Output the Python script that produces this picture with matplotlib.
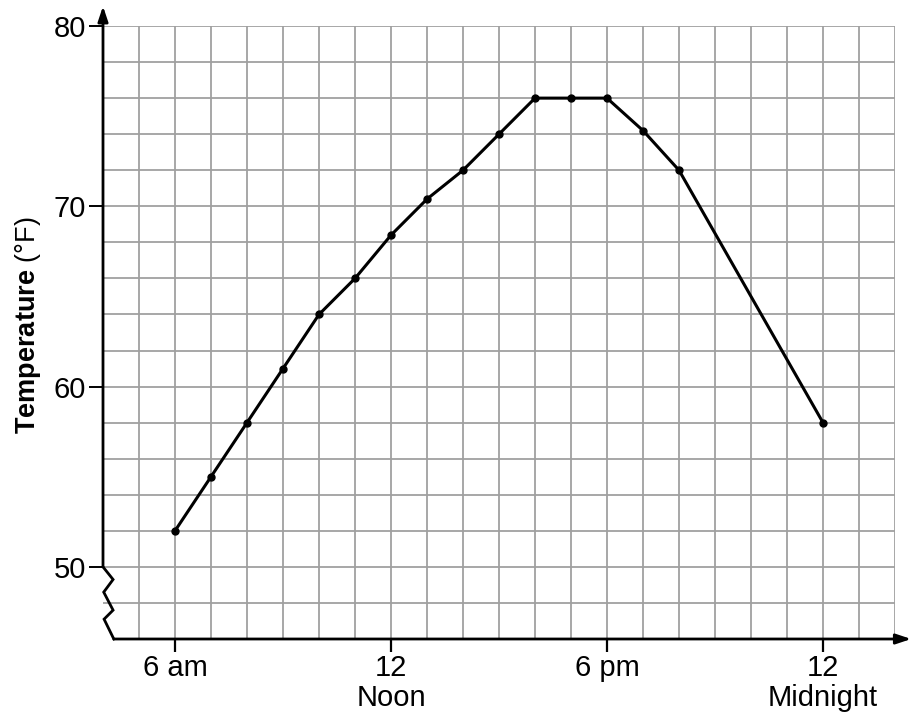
import matplotlib
matplotlib.use("Agg")
import matplotlib.pyplot as plt

plt.rcParams['font.family'] = ['Liberation Sans', 'DejaVu Sans']
plt.rcParams['mathtext.fontset'] = 'custom'
plt.rcParams['mathtext.rm'] = 'Liberation Sans'
plt.rcParams['mathtext.bf'] = 'Liberation Sans:bold'

# Data (hour of day, temperature in °F)
hours = [6, 7, 8, 9, 10, 11, 12, 13, 14, 15, 16, 17, 18, 19, 20, 24]
temps = [52, 55, 58, 61, 64, 66, 68.4, 70.4, 72, 74, 76, 76, 76, 74.2, 72, 58]

xtick_pos = [6, 12, 18, 24]
xtick_labels = ["6 am", "12\nNoon", "6 pm", "12\nMidnight"]
ytick_pos = [50, 60, 70, 80]
ytick_labels = ["50", "60", "70", "80"]
ylabel = r"$\mathbf{Temperature}$ (°F)"

x_min, x_max = 4.0, 26.0
y_min, y_max = 46, 80

fig = plt.figure(figsize=(9.11, 7.16), dpi=100)
ax = fig.add_axes([103/911, 77/716, (895-103)/911, (639-26)/716])
ax.set_xlim(x_min, x_max)
ax.set_ylim(y_min, y_max)

for s in ax.spines.values():
    s.set_visible(False)

# grid: every hour and every 2 degrees
ax.set_xticks(list(range(5, 27)), minor=True)
ax.set_yticks(list(range(48, 81, 2)), minor=True)
ax.set_xticks(xtick_pos)
ax.set_xticklabels(xtick_labels, fontsize=21, linespacing=1.1)
ax.set_yticks(ytick_pos)
ax.set_yticklabels(ytick_labels, fontsize=21)
ax.tick_params(which='minor', length=0)
ax.tick_params(axis='x', which='major', length=9, width=1.6, pad=2, direction='out')
ax.tick_params(axis='y', which='major', length=10, width=1.4, pad=2, direction='out')
ax.grid(which='both', color='#a0a0a0', linewidth=1.3)
ax.set_axisbelow(True)

# axes lines with arrows
ax.annotate('', xy=(x_min, 81.1), xytext=(x_min, 50),
            arrowprops=dict(arrowstyle='-|>,head_length=0.9,head_width=0.3', color='black', lw=2,
                            shrinkA=0, shrinkB=0),
            annotation_clip=False)
ax.annotate('', xy=(26.45, y_min), xytext=(4.3, y_min),
            arrowprops=dict(arrowstyle='-|>,head_length=0.9,head_width=0.3', color='black', lw=2,
                            shrinkA=0, shrinkB=0),
            annotation_clip=False)
# axis break zigzag
ax.plot([4.0, 4.28, 4.02, 4.28, 4.03, 4.3], [50, 49.3, 48.6, 47.6, 47.1, 46],
        color='black', lw=2, clip_on=False, solid_joinstyle='miter')

# data
ax.plot(hours, temps, color='black', lw=2.2, marker='o', markersize=5, clip_on=False)

ax.set_ylabel(ylabel, fontsize=19.5)
ax.yaxis.set_label_coords(-0.076, 0.512)

fig.savefig("out.png", dpi=100)
